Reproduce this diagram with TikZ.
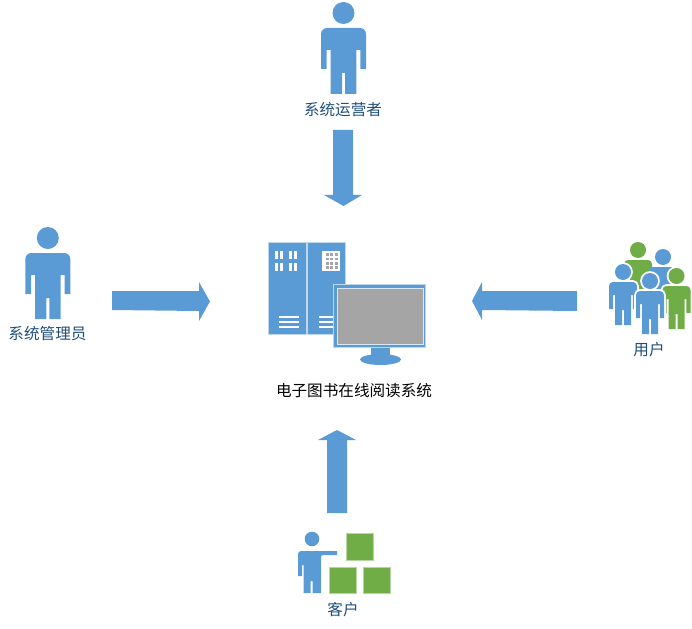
\documentclass[tikz,border=0pt]{standalone}
\usepackage{fontspec}
\newfontfamily\cjk{Noto Sans CJK SC}[Scale=1]
\definecolor{iconblue}{HTML}{5B9BD5}
\definecolor{icongreen}{HTML}{70AD47}
\definecolor{iconlight}{HTML}{BDD7EE}
\definecolor{labelblue}{HTML}{1F4E79}
\definecolor{screengray}{HTML}{A5A5A5}
\tikzset{
  x=1pt,y=-1pt,
  plain/.style={fill=iconblue,draw=iconlight,line width=.3pt},
  halo/.style={preaction={draw=white,line width=3.6pt}},
  bluefig/.style={fill=iconblue},
  greenfig/.style={fill=icongreen},
  blockarrow/.style={fill=iconblue,draw=none},
  whitebar/.style={fill=white,draw=none},
  crate/.style={fill=icongreen,draw=icongreen!50!white,line width=.5pt},
  caption/.style={font=\cjk\fontsize{15.6}{18}\selectfont,text=labelblue,inner sep=0pt,anchor=center},
  pics/person/.style={code={
    \path[#1] (0,11) circle[radius=11];
    \path[#1,rounded corners=6pt] (-22.5,67) -- (-22.5,26) -- (22.5,26) [sharp corners] -- (22.5,67) -- (16.8,67)
      -- (16.8,48) -- (12.8,48) -- (12.8,92) -- (1.5,92) -- (1.5,71) -- (-1.5,71)
      -- (-1.5,92) -- (-12.8,92) -- (-12.8,48) -- (-16.8,48) -- (-16.8,67) -- (-22.5,67) -- cycle;
  }},
  pics/member/.style={code={
    \path[#1,rounded corners=4pt] (-14,45) -- (-14,18) -- (14,18) [sharp corners] -- (14,45) -- (9.8,45)
      -- (9.8,31) -- (8,31) -- (8,61) -- (1,61) -- (1,46) -- (-1,46)
      -- (-1,61) -- (-8,61) -- (-8,31) -- (-9.8,31) -- (-9.8,45) -- (-14,45) -- cycle;
    \path[#1] (0,8) circle[radius=8];
  }}
}
\begin{document}
\begin{tikzpicture}
\useasboundingbox (0,0) rectangle (692,628);
% operators
\pic at (343.5,2) {person={bluefig}};
\node[caption] (operator) at (343,110) {系统运营者};
\pic at (47.8,227) {person={bluefig}};
\node[caption] (admin) at (47.5,334) {系统管理员};
% arrows
\fill[blockarrow] (333,130) -- (353,130) -- (353,195) -- (362,195) -- (343.5,206) -- (324,195) -- (333,195) -- cycle;
\fill[blockarrow] (112,291) -- (199,291) -- (199,282) -- (210,301.5) -- (199,321) -- (199,311) -- (112,310) -- cycle;
\fill[blockarrow] (577,291) -- (482,291) -- (482,282) -- (472,301) -- (482,320) -- (482,310) -- (577,311) -- cycle;
\fill[blockarrow] (327,513) -- (327,440) -- (318,440) -- (337,430) -- (356,440) -- (347,440) -- (347,513) -- cycle;
% computer
\path[plain] (268,242) rectangle (305.7,334);
\path[plain] (307,242) rectangle (345,334);
\foreach \x in {275,280.2,289,294.2} \foreach \y in {251,263}
  \fill[whitebar] (\x,\y) rectangle ++(3,8);
\foreach \y in {316,321,326} {
  \fill[whitebar] (279,\y) rectangle ++(20,1.7);
  \fill[whitebar] (319,\y) rectangle ++(15,1.7);
}
\fill[whitebar] (322.3,251) rectangle (340,271);
\foreach \x in {325.7,330.3,335.2} \foreach \y in {253,257.5,262,266}
  \fill[gray!70] (\x,\y) rectangle ++(2.8,2.8);
\path[fill=iconblue] (371,347) rectangle (390,358);
\path[fill=iconblue] (380.5,359.5) ellipse[x radius=20.5,y radius=5.5];
\path[fill=iconblue,draw=iconlight,line width=.8pt] (333.5,284.5) rectangle (425.5,347.5);
\path[fill=screengray,draw=iconlight!60!white,line width=1pt] (337.5,288.5) rectangle (423,344);
\node[caption,text=black] (system) at (354,391) {电子图书在线阅读系统};
% users
\pic at (638,242) {member={greenfig}};
\pic at (663,249) {member={bluefig}};
\pic at (623,264) {member={bluefig,halo}};
\pic at (676.5,268) {member={greenfig,halo}};
\pic at (650,273) {member={bluefig,halo}};
\node[caption] (users) at (649,350) {用户};
% customer
\fill[iconblue] (312,539) circle[radius=7.3];
\fill[iconblue,rounded corners=3pt] (298,576) -- (298,551) -- (324,551) [sharp corners] -- (337,551) -- (337,555) -- (326,555)
  [rounded corners=2pt] -- (321,555) [sharp corners] -- (321,593) -- (312.5,593) -- (312.5,581) -- (310.5,581) -- (310.5,593)
  -- (303.5,593) -- (303.5,565) -- (302,565) -- (302,576) -- cycle;
\path[crate] (346,533) rectangle (373,560);
\path[crate] (329,567) rectangle (356,593);
\path[crate] (363,567) rectangle (390,593);
\node[caption] (customer) at (343,610) {客户};
\end{tikzpicture}
\end{document}
